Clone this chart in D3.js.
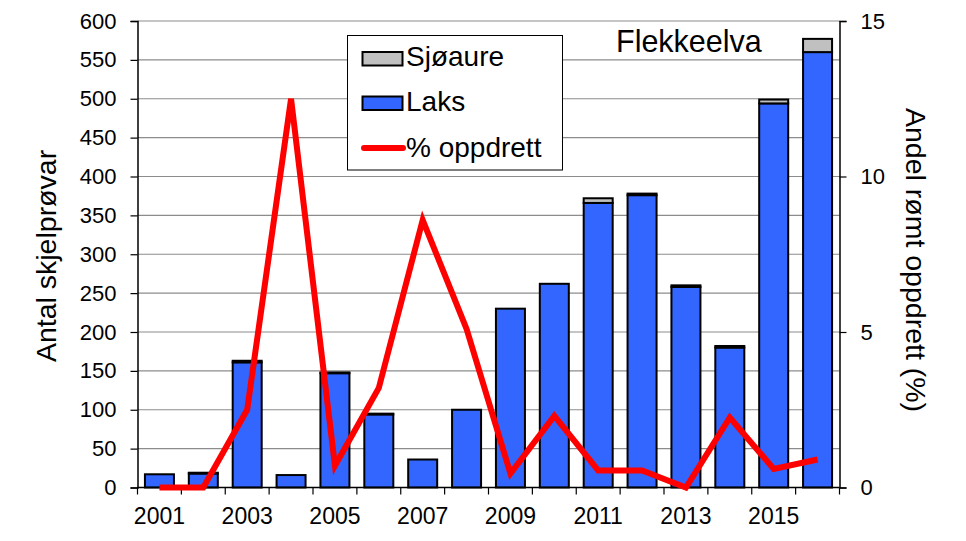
<!DOCTYPE html>
<html>
<head>
<meta charset="utf-8">
<script src="https://cdn.jsdelivr.net/npm/d3@7"></script>
<style>
html,body{margin:0;padding:0;background:#fff;}
svg text{font-family:Arial,"Liberation Sans",sans-serif;fill:#000;}
</style>
</head>
<body>
<svg id="chart" width="966" height="541"></svg>
<script>
const years = [2001,2002,2003,2004,2005,2006,2007,2008,2009,2010,2011,2012,2013,2014,2015,2016];
const laks = [17,18,161,16,147,94,36,100,230,262,366,376,258,180,494,560];
const sjoaure = [0,1,2,0,1,1,0,0,0,0,6,2,2,2,5,17];
const pctOppdrett = [0,0,2.5,12.5,0.7,3.2,8.6,5.1,0.45,2.3,0.55,0.55,0,2.25,0.6,0.9];
const leftTicks = [0,50,100,150,200,250,300,350,400,450,500,550,600];
const rightTicks = [0,5,10,15];
const yearLabels = [2001,2003,2005,2007,2009,2011,2013,2015];

const svg = d3.select("#chart");
const m = {left:137.5, right:839.5, top:21, bottom:487.5};

const xOuter = d3.scaleBand().domain(years).range([m.left, m.right]).padding(0);
const y = d3.scaleLinear().domain([0,600]).range([m.bottom, m.top]);
const y2 = d3.scaleLinear().domain([0,15]).range([m.bottom, m.top]);

// gridlines
svg.append("g").selectAll("line").data(leftTicks.filter(d=>d>0)).join("line")
  .attr("x1", m.left).attr("x2", m.right)
  .attr("y1", d=>y(d)).attr("y2", d=>y(d))
  .attr("stroke","#8c8c8c").attr("stroke-width",1.2);

// bars
const bars = svg.append("g");
years.forEach((yr,i)=>{
  const bx = xOuter(yr) + xOuter.bandwidth()/2 - 14.5;
  bars.append("rect").attr("x", bx).attr("width", 29)
    .attr("y", y(laks[i])).attr("height", y(0)-y(laks[i]))
    .attr("fill","#3366ff").attr("stroke","#000").attr("stroke-width",2);
  if (sjoaure[i] > 0) {
    bars.append("rect").attr("x", bx).attr("width", 29)
      .attr("y", y(laks[i]+sjoaure[i])).attr("height", y(laks[i])-y(laks[i]+sjoaure[i]))
      .attr("fill","#c0c0c0").attr("stroke","#000").attr("stroke-width",2);
  }
});

// left axis
const yAxis = d3.axisLeft(y).tickValues(leftTicks).tickSize(7).tickPadding(14);
const gl = svg.append("g").attr("transform",`translate(${m.left},0)`).call(yAxis);
gl.select(".domain").attr("stroke","#000").attr("stroke-width",1.5);
gl.selectAll(".tick line").attr("stroke","#000").attr("stroke-width",1.2);
gl.selectAll(".tick text").attr("font-size",22).attr("font-family","Arial, 'Liberation Sans'");

// right axis
const y2Axis = d3.axisRight(y2).tickValues(rightTicks).tickSize(7).tickPadding(14);
const gr = svg.append("g").attr("transform",`translate(${m.right},0)`).call(y2Axis);
gr.select(".domain").attr("stroke","#000").attr("stroke-width",1.5);
gr.selectAll(".tick line").attr("stroke","#000").attr("stroke-width",1.2);
gr.selectAll(".tick text").attr("font-size",22).attr("font-family","Arial, 'Liberation Sans'");

// bottom axis: ticks at category boundaries
const bounds = years.map(yr=>xOuter(yr)).concat([m.right]);
const gb = svg.append("g");
gb.append("line").attr("x1",m.left).attr("x2",m.right).attr("y1",m.bottom).attr("y2",m.bottom)
  .attr("stroke","#000").attr("stroke-width",1.5);
gb.selectAll("line.t").data(bounds).join("line").attr("class","t")
  .attr("x1",d=>d).attr("x2",d=>d).attr("y1",m.bottom).attr("y2",m.bottom+7)
  .attr("stroke","#000").attr("stroke-width",1.2);
gb.selectAll("text").data(yearLabels).join("text")
  .attr("x", d=>xOuter(d)+xOuter.bandwidth()/2).attr("y", 524)
  .attr("text-anchor","middle").attr("font-size",23).text(d=>d);

// line
const line = d3.line().x((d,i)=>xOuter(years[i])+xOuter.bandwidth()/2).y(d=>y2(d));
svg.append("path").datum(pctOppdrett).attr("d", line)
  .attr("fill","none").attr("stroke","#ff0000").attr("stroke-width",6).attr("stroke-linejoin","miter");

// axis titles
svg.append("text").attr("transform","translate(56,256) rotate(-90)")
  .attr("text-anchor","middle").attr("font-size",28.5).text("Antal skjelprøvar");
svg.append("text").attr("transform","translate(906,260) rotate(90)")
  .attr("text-anchor","middle").attr("font-size",28.5).text("Andel rømt oppdrett (%)");

// title
svg.append("text").attr("x",616).attr("y",51.5).attr("font-size",30.5).text("Flekkeelva");

// legend
const lg = svg.append("g");
lg.append("rect").attr("x",347.5).attr("y",35.5).attr("width",215).attr("height",134.5)
  .attr("fill","#fff").attr("stroke","#000").attr("stroke-width",1);
lg.append("rect").attr("x",362.5).attr("y",52).attr("width",40).attr("height",13.5)
  .attr("fill","#c0c0c0").attr("stroke","#000").attr("stroke-width",2);
lg.append("rect").attr("x",362.5).attr("y",96.5).attr("width",40).attr("height",13.5)
  .attr("fill","#3366ff").attr("stroke","#000").attr("stroke-width",2);
lg.append("line").attr("x1",364).attr("x2",403).attr("y1",148).attr("y2",148)
  .attr("stroke","#ff0000").attr("stroke-width",6).attr("stroke-linecap","round");
lg.append("text").attr("x",406).attr("y",66).attr("font-size",28).text("Sjøaure");
lg.append("text").attr("x",406).attr("y",111).attr("font-size",28).text("Laks");
lg.append("text").attr("x",406).attr("y",157).attr("font-size",28).text("% oppdrett");
</script>
</body>
</html>
